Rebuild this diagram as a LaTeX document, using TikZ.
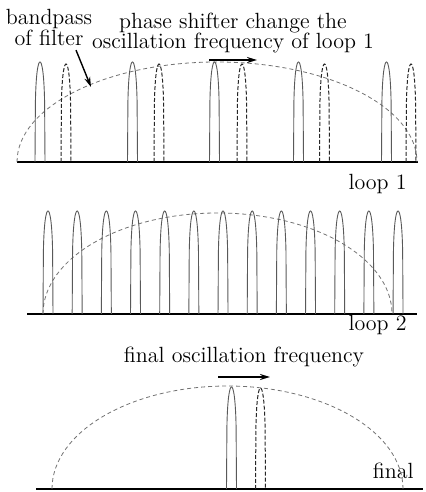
\documentclass[tikz,border=0pt]{standalone}
\usepackage{tikz}
\usetikzlibrary{arrows.meta, positioning}

% one narrow spectral line: #2 centre, #3 base, #4 top
\newcommand{\specline}[4][]{%
  \draw[#1] (#2-5,#3) -- (#2-4.6,#4-40)
    .. controls (#2-4,#4-10) and (#2-1.8,#4) .. (#2,#4)
    .. controls (#2+1.8,#4) and (#2+4,#4-10) .. (#2+4.6,#4-40)
    -- (#2+5,#3);}
% label fonts (tight leading)
\newcommand{\lblfont}{\fontsize{11}{10.4}\selectfont\lineskiplimit=-5pt\relax}
\newcommand{\tightfont}{\fontsize{11}{9.9}\selectfont\lineskiplimit=-5pt\relax}

\begin{document}
\begin{tikzpicture}[x=0.5pt, y=0.5pt,
      axis/.style      = {line width=0.8pt, black},
      mode/.style      = {line width=0.45pt, black!65},
      shifted/.style   = {line width=0.5pt, black!85, dash pattern=on 2pt off 1pt},
      passband/.style  = {line width=0.4pt, black!55, dash pattern=on 2pt off 1.5pt},
      movearrow/.style = {-{Stealth[length=5pt, width=3pt]}, line width=0.9pt},
      lbl/.style       = {font=\lblfont, inner sep=0pt},
    ]
    \useasboundingbox (0,0) rectangle (425,492);

    % --- Baselines (y axis up) ---
    \def\yA{330}
    \def\yB{178}
    \def\yC{3}

    % --- Loop 1 ---
    \draw[axis] (17,\yA) -- (418,\yA);
    \draw[passband] (17,\yA) arc[start angle=180, end angle=0, x radius=200, y radius=100];
    \foreach \c in {40, 132.5, 214.5, 298.5, 386.5}{
      \specline[mode]{\c}{\yA}{430}
    }
    \foreach \c in {66, 159, 242, 324.5, 411}{
      \specline[shifted]{\c}{\yA}{428}
    }
    \node[lbl, anchor=north, align=center] (bpf) at (49,483) {bandpass\\of filter};
    \coordinate (bpftip) at (91,405);
    \draw[movearrow, line width=0.7pt] ([shift={(27,-4)}]bpf.south) -- (bpftip);
    \node[lbl, anchor=north, align=center, font=\tightfont]
      (phs) at (233,479) {phase shifter change the\\oscillation frequency of loop 1};
    \coordinate (phsA) at (209,432);
    \coordinate (phsB) at (257,432);
    \draw[movearrow] (phsA) -- (phsB);
    \node[lbl, anchor=base east] (lpA) at (407,302) {loop 1};

    % --- Loop 2 ---
    \draw[axis] (27,\yB) -- (417,\yB);
    \draw[passband] (43,\yB) arc[start angle=180, end angle=0, x radius=174.5, y radius=101];
    \foreach \i in {0,...,12}{
      \specline[mode]{48+29.17*\i}{\yB}{281}
    }
    \node[lbl, anchor=base east] (lpB) at (407,161) {loop 2};

    % --- Final ---
    \draw[axis] (36,\yC) -- (423,\yC);
    \draw[passband] (52,\yC) arc[start angle=180, end angle=0, x radius=175.5, y radius=103];
    \specline[mode]{231.5}{\yC}{105}
    \specline[shifted]{260.5}{\yC}{104}
    \node[lbl, anchor=base] (fof) at (244,129) {final oscillation frequency};
    \coordinate (fofA) at (218,115);
    \coordinate (fofB) at (270,115);
    \draw[movearrow] (fofA) -- (fofB);
    \node[lbl, anchor=base east] (fin) at (414,13) {final};

  \end{tikzpicture}
\end{document}
